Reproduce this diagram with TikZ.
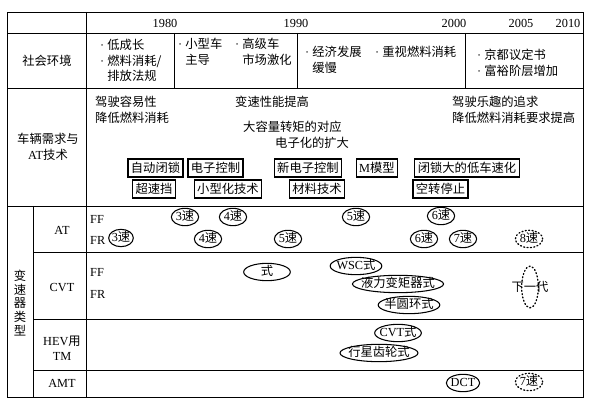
\documentclass[tikz,border=0pt]{standalone}
\usepackage{fontspec}
\setmainfont{Liberation Serif}
\newfontfamily\cjk{Noto Sans CJK SC}
\usetikzlibrary{shapes.geometric}
\newcommand\lat[1]{{\rmfamily #1}}
\newcommand\dotitem{\lat{·\ }}

\tikzset{
  txt/.style={font=\cjk\fontsize{10.5}{13.2}\selectfont, inner sep=0pt},
  latin/.style={font=\rmfamily\fontsize{10.5}{13.2}\selectfont, inner sep=0pt},
  para/.style={txt, align=left, anchor=north west},
  tbox/.style={txt, draw, line width=1pt, inner xsep=2.5pt, minimum height=0.54cm},
  ov/.style={txt, ellipse, draw, line width=0.9pt, inner xsep=-4pt, inner ysep=0pt,
    text height=7.5pt, text depth=1.5pt, minimum width=0.82cm, minimum height=0.52cm},
  dov/.style={ov, dotted, line width=1.1pt, line cap=round}
}

\begin{document}
\begin{tikzpicture}[x=0.03cm, y=-0.03cm]
    \useasboundingbox (0,0) rectangle (590,404);

    % Define the corners of the table
    \coordinate (TL) at (7,12);
    \coordinate (BR) at (583,397);

    % Draw the frame and the rules
    \draw[line width=0.8pt] (TL) rectangle (BR);
    \draw[line width=0.8pt] (7,33) -- (583,33);
    \draw[line width=0.8pt] (7,88) -- (583,88);
    \draw[line width=0.8pt] (7,206) -- (583,206);
    \draw[line width=0.8pt] (86,12) -- (86,397);
    \draw (174,33) -- (174,88);
    \draw (297,33) -- (297,88);
    \draw (465,33) -- (465,88);
    \draw (33,206) -- (33,397);
    \draw (33,252) -- (583,252);
    \draw (33,319) -- (583,319);
    \draw (33,370) -- (583,370);

    % Years
    \node[latin] (y1980) at (165,23) {1980};
    \node[latin] (y1990) at (296,23) {1990};
    \node[latin] (y2000) at (454,23) {2000};
    \node[latin] (y2005) at (521,23) {2005};
    \node[latin] (y2010) at (568,23) {2010};

    % Row labels
    \node[txt] (lsoc) at (47,61) {社会环境};
    \node[txt, align=center] (lneed) at (48,147) {车辆需求与\\\lat{AT}技术};
    \node[txt, align=center, font=\cjk\fontsize{10.5}{11.9}\selectfont] (ltype) at (20,303) {变\\速\\器\\类\\型};
    \node[latin] (lblat) at (62,230) {AT};
    \node[latin] (lblcvt) at (62,288) {CVT};
    \node[txt, align=center] (lblhev) at (62,348) {\lat{HEV}用\\\lat{TM}};
    \node[latin] (lblamt) at (62,383) {AMT};

    % Social environment
    \node[para] (soc1) at (100,39) {\dotitem 低成长\\\dotitem 燃料消耗/\\\phantom{\dotitem}排放法规};
    \node[para] (soc2a) at (178,38) {\dotitem 小型车\\\phantom{\dotitem}主导};
    \node[para] (soc2b) at (235,38) {\dotitem 高级车\\\phantom{\dotitem}市场激化};
    \node[para] (soc3a) at (305,46) {\dotitem 经济发展\\\phantom{\dotitem}缓慢};
    \node[para] (soc3b) at (375,46) {\dotitem 重视燃料消耗};
    \node[para] (soc4) at (477,49) {\dotitem 京都议定书\\\dotitem 富裕阶层增加};

    % Vehicle needs
    \node[para] (need1) at (95,96) {驾驶容易性\\降低燃料消耗};
    \node[txt, anchor=west] (need2) at (235,102) {变速性能提高};
    \node[txt, anchor=west] (need3) at (243,127) {大容量转矩的对应};
    \node[txt, anchor=west] (need4) at (275,143) {电子化的扩大};
    \node[para] (need5) at (452,96) {驾驶乐趣的追求\\降低燃料消耗要求提高};

    % AT technology boxes
    \node[tbox] (b1) at (155.5,168) {自动闭锁};
    \node[tbox] (b2) at (215.5,168) {电子控制};
    \node[tbox] (b3) at (308,168) {新电子控制};
    \node[tbox] (b4) at (377,168) {\lat{M}模型};
    \node[tbox] (b5) at (467,168) {闭锁大的低车速化};
    \node[tbox] (b6) at (154,189) {超速挡};
    \node[tbox] (b7) at (228,189) {小型化技术};
    \node[tbox] (b8) at (317,189) {材料技术};
    \node[tbox] (b9) at (440.5,189) {空转停止};

    % AT
    \node[latin, anchor=west] (atff) at (90,219) {FF};
    \node[latin, anchor=west] (atfr) at (90,240) {FR};
    \node[ov] (ff3) at (185,217) {\lat{3}速};
    \node[ov] (ff4) at (233,217) {\lat{4}速};
    \node[ov] (ff5) at (356,217) {\lat{5}速};
    \node[ov] (ff6) at (441,216) {\lat{6}速};
    \node[ov, minimum width=0.74cm] (fr3) at (121,238) {\lat{3}速};
    \node[ov] (fr4) at (208,239) {\lat{4}速};
    \node[ov] (fr5) at (288,239) {\lat{5}速};
    \node[ov] (fr6) at (424,239) {\lat{6}速};
    \node[ov] (fr7) at (463,239) {\lat{7}速};
    \node[dov] (fr8) at (529,239) {\lat{8}速};

    % CVT
    \node[latin, anchor=west] (cvtff) at (90,272) {FF};
    \node[latin, anchor=west] (cvtfr) at (90,294) {FR};
    \node[ov, minimum width=1.4cm] (belt) at (267,272) {式};
    \node[ov, minimum width=1.55cm] (wsc) at (356,266) {\lat{WSC}式};
    \node[ov] (tc) at (398,284) {液力变矩器式};
    \node[ov, minimum width=1.85cm] (toro) at (409,305) {半圆环式};
    \node[txt] (next) at (530,287) {下一代};
    \node[dov, minimum width=0.5cm, minimum height=1.25cm] (nextring) at (530,287) {};

    % HEV
    \node[ov, minimum width=1.4cm] (hevcvt) at (398,333) {\lat{CVT}式};
    \node[ov, minimum width=2.34cm] (planet) at (379,353) {行星齿轮式};

    % AMT
    \node[ov, minimum width=1.0cm] (dct) at (463,383) {\lat{DCT}};
    \node[dov] (amt7) at (529,382) {\lat{7}速};

\end{tikzpicture}
\end{document}
